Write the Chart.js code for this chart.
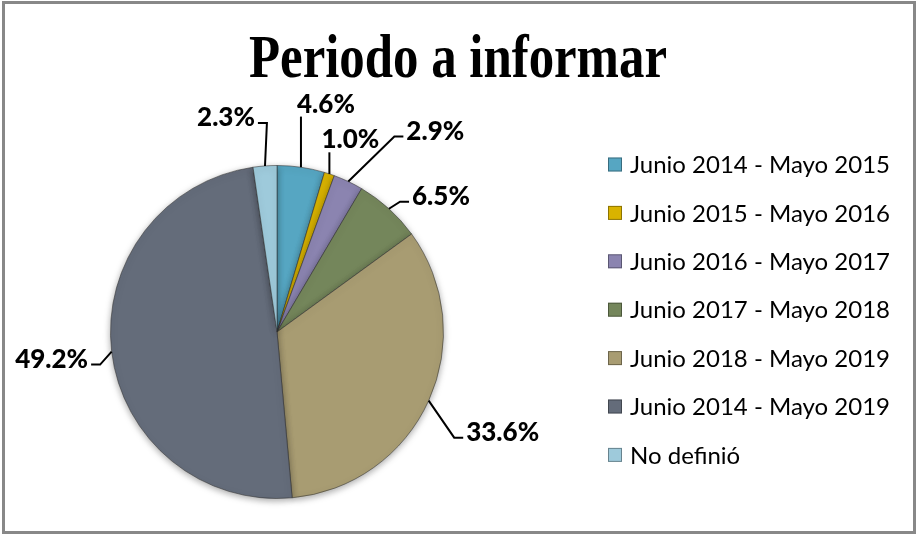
<!DOCTYPE html>
<html>
<head>
<meta charset="utf-8">
<script src="https://cdn.jsdelivr.net/npm/chart.js@4.4.1/dist/chart.umd.min.js"></script>
<style>
  html, body { margin: 0; padding: 0; background: #fff; }
  #wrap { width: 917px; height: 535px; }
</style>
</head>
<body>
<div id="wrap"><canvas id="pieChart" width="917" height="535"></canvas></div>
<script>
const chartTitle = "Periodo a informar";
const categories = [
  "Junio 2014 - Mayo 2015",
  "Junio 2015 - Mayo 2016",
  "Junio 2016 - Mayo 2017",
  "Junio 2017 - Mayo 2018",
  "Junio 2018 - Mayo 2019",
  "Junio 2014 - Mayo 2019",
  "No definió"
];
const shares = [4.6, 1.0, 2.9, 6.5, 33.6, 49.2, 2.3];
const sliceColors = ["#56a6c2", "#d9b300", "#8b84b0", "#74865b", "#a89c72", "#646c7a", "#9ecadb"];
// where each percentage label sits, relative to the edge of its slice
const labelOffsets = [[25, -64], [21, -35], [87, -51], [52, -13], [74, 31], [-60, 7], [-39, -49]];

// title, outside labels with leader lines, legend and frame
const decorations = {
  id: "decorations",
  beforeDatasetsDraw(chart) {
    const ctx = chart.ctx;
    ctx.save();
    ctx.shadowColor = "rgba(0,0,0,0.35)";
    ctx.shadowBlur = 7;
    ctx.shadowOffsetY = 2;
  },
  afterDatasetsDraw(chart) {
    chart.ctx.restore();
  },
  afterDraw(chart) {
    const ctx = chart.ctx;

    // frame
    ctx.save();
    ctx.strokeStyle = "#888";
    ctx.lineWidth = 3;
    ctx.strokeRect(3.5, 2.5, 911, 530);
    ctx.restore();

    // title
    ctx.save();
    ctx.font = "bold 62px 'Liberation Serif'";
    ctx.fillStyle = "#000";
    ctx.textAlign = "center";
    ctx.textBaseline = "alphabetic";
    ctx.translate(458, 77);
    ctx.scale(0.82, 1);
    ctx.fillText(chartTitle, 0, 0);
    ctx.restore();

    // percentage labels
    const meta = chart.getDatasetMeta(0);
    const size = 26, capH = size * 0.72;
    meta.data.forEach((arc, i) => {
      const p = arc.getProps(["x", "y", "startAngle", "endAngle", "outerRadius"], true);
      const mid = (p.startAngle + p.endAngle) / 2;
      const ex = p.x + Math.cos(mid) * p.outerRadius;
      const ey = p.y + Math.sin(mid) * p.outerRadius;
      const tx = ex + labelOffsets[i][0];
      const ty = ey + labelOffsets[i][1];
      const text = shares[i].toFixed(1) + "%";

      ctx.save();
      ctx.font = "900 " + size + "px Lato";
      const w = ctx.measureText(text).width;
      const left = tx - w / 2, right = tx + w / 2, bottom = ty + capH / 2 + 2;

      ctx.strokeStyle = "#000";
      ctx.lineWidth = 2;
      ctx.beginPath();
      ctx.moveTo(ex, ey);
      if (bottom < ey - 4 && ex >= left - 10 && ex <= right + 10) {
        ctx.lineTo(ex, bottom + 2);
      } else if (tx > ex) {
        const side = left - 3;
        ctx.lineTo(side - 9, ty + 6);
        ctx.lineTo(side, ty + 6);
      } else {
        const side = right + 3;
        ctx.lineTo(side + 9, ty + 6);
        ctx.lineTo(side, ty + 6);
      }
      ctx.stroke();

      ctx.fillStyle = "#000";
      ctx.textAlign = "center";
      ctx.textBaseline = "alphabetic";
      ctx.fillText(text, tx, ty + capH / 2);
      ctx.restore();
    });

    // legend
    ctx.save();
    ctx.font = "24px Lato";
    ctx.textBaseline = "alphabetic";
    ctx.textAlign = "left";
    categories.forEach((name, i) => {
      const cy = 164.5 + i * 48.4;
      ctx.fillStyle = sliceColors[i];
      ctx.fillRect(608, cy - 7, 14, 14);
      ctx.strokeStyle = "rgba(0,0,0,0.35)";
      ctx.lineWidth = 1;
      ctx.strokeRect(608.5, cy - 6.5, 13, 13);
      ctx.fillStyle = "#000";
      ctx.fillText(name, 630, cy + 8.6);
    });
    ctx.restore();
  }
};

new Chart(document.getElementById("pieChart"), {
  type: "pie",
  data: {
    labels: categories,
    datasets: [{
      data: shares,
      backgroundColor: sliceColors,
      borderColor: "rgba(50,50,50,0.55)",
      borderWidth: 1
    }]
  },
  options: {
    responsive: false,
    animation: false,
    layout: {
      padding: { left: 110, right: 473, top: 165, bottom: 36 }
    },
    plugins: {
      legend: { display: false },
      title: { display: false },
      tooltip: { enabled: false }
    }
  },
  plugins: [decorations]
});
</script>
</body>
</html>
